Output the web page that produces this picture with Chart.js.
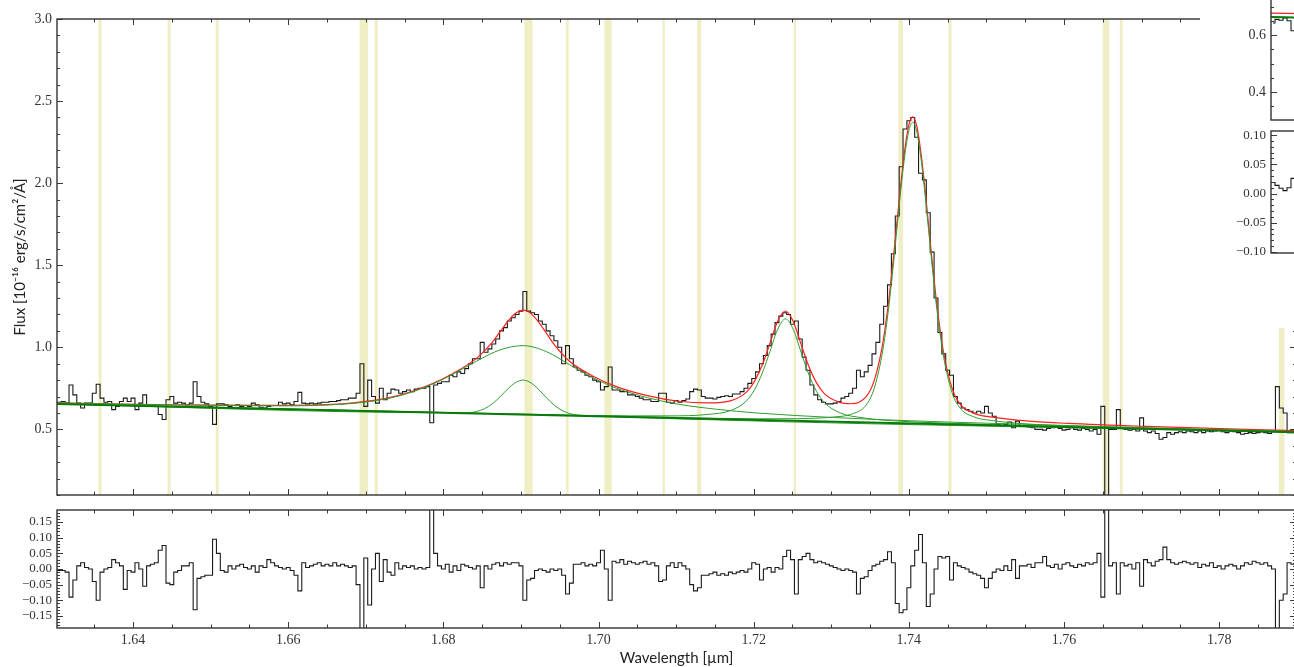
<!DOCTYPE html>
<html>
<head>
<meta charset="utf-8">
<title>Spectrum fit</title>
<script src="https://cdn.jsdelivr.net/npm/chart.js@4.4.1/dist/chart.umd.min.js"></script>
<style>
  body { margin: 0; background: #fff; width: 1294px; height: 667px; overflow: hidden; position: relative; }
  canvas { position: absolute; }
  #inset-bg { position: absolute; left: 1200px; top: 0; width: 100px; height: 328px; background: #fff; }
</style>
</head>
<body>
<canvas id="main-chart" width="1300" height="509" style="left:0;top:0"></canvas>
<canvas id="resid-chart" width="1300" height="170" style="left:0;top:497px"></canvas>
<div id="inset-bg"></div>
<canvas id="inset-flux" width="100" height="158" style="left:1200px;top:-24px"></canvas>
<canvas id="inset-resid" width="100" height="210" style="left:1200px;top:118px"></canvas>
<script>
// spectrum pixels: wavelength = lamStart + k * lamStep (micron)
const lamStart = 1.6300;
const lamStep = 0.0005;

const flux = [
  0.665, 0.665, 0.67, 0.66, 0.77, 0.71, 0.66, 0.63, 0.66, 0.66, 0.72, 0.775, 0.69, 0.665, 0.67, 0.62, 0.64, 0.67, 0.69, 0.67,
  0.69, 0.62, 0.66, 0.71, 0.65, 0.645, 0.64, 0.59, 0.56, 0.68, 0.70, 0.66, 0.665, 0.66, 0.65, 0.66, 0.79, 0.70, 0.665, 0.655,
  0.64, 0.53, 0.655, 0.655, 0.65, 0.64, 0.645, 0.65, 0.64, 0.645, 0.64, 0.66, 0.65, 0.635, 0.63, 0.64, 0.645, 0.645, 0.665, 0.655,
  0.66, 0.65, 0.67, 0.725, 0.66, 0.655, 0.66, 0.655, 0.66, 0.665, 0.665, 0.67, 0.67, 0.675, 0.68, 0.68, 0.69, 0.69, 0.72, 0.90,
  0.64, 0.80, 0.70, 0.66, 0.75, 0.68, 0.72, 0.745, 0.74, 0.72, 0.73, 0.74, 0.73, 0.745, 0.75, 0.75, 0.76, 0.54, 0.77, 0.78,
  0.79, 0.79, 0.83, 0.82, 0.85, 0.84, 0.87, 0.90, 0.93, 0.93, 1.03, 0.97, 0.99, 1.02, 1.05, 1.10, 1.12, 1.16, 1.18, 1.20,
  1.22, 1.34, 1.22, 1.21, 1.20, 1.16, 1.14, 1.10, 1.07, 1.04, 1.00, 0.90, 1.01, 0.93, 0.88, 0.86, 0.85, 0.83, 0.82, 0.80,
  0.79, 0.74, 0.76, 0.88, 0.74, 0.74, 0.73, 0.73, 0.71, 0.71, 0.70, 0.69, 0.68, 0.68, 0.67, 0.67, 0.72, 0.72, 0.665, 0.66,
  0.675, 0.665, 0.675, 0.685, 0.73, 0.745, 0.74, 0.70, 0.69, 0.69, 0.685, 0.695, 0.70, 0.705, 0.70, 0.715, 0.715, 0.73, 0.75, 0.78,
  0.81, 0.85, 0.90, 0.95, 1.01, 1.08, 1.15, 1.19, 1.21, 1.20, 1.14, 1.16, 1.05, 0.94, 0.86, 0.77, 0.71, 0.68, 0.665, 0.655,
  0.655, 0.66, 0.67, 0.69, 0.70, 0.72, 0.75, 0.86, 0.82, 0.85, 0.89, 0.96, 1.03, 1.14, 1.25, 1.38, 1.57, 1.80, 2.10, 2.33,
  2.38, 2.40, 2.28, 2.06, 2.02, 1.82, 1.58, 1.30, 1.09, 0.96, 0.86, 0.83, 0.70, 0.66, 0.63, 0.62, 0.61, 0.60, 0.61, 0.60,
  0.64, 0.60, 0.58, 0.53, 0.52, 0.53, 0.545, 0.51, 0.55, 0.52, 0.52, 0.515, 0.51, 0.50, 0.50, 0.495, 0.505, 0.51, 0.52, 0.505,
  0.495, 0.50, 0.51, 0.50, 0.495, 0.505, 0.50, 0.49, 0.50, 0.47, 0.64, 0.05, 0.50, 0.50, 0.62, 0.505, 0.50, 0.495, 0.50, 0.49,
  0.57, 0.49, 0.48, 0.49, 0.475, 0.44, 0.45, 0.48, 0.47, 0.48, 0.485, 0.48, 0.49, 0.485, 0.48, 0.49, 0.48, 0.49, 0.485, 0.49,
  0.495, 0.485, 0.48, 0.49, 0.485, 0.48, 0.47, 0.475, 0.48, 0.475, 0.48, 0.485, 0.48, 0.475, 0.49, 0.76, 0.63, 0.60, 0.48, 0.48,
  0.48
];

const resid = [
  0.00, -0.005, -0.005, -0.01, -0.09, -0.035, 0.01, 0.02, 0.005, 0.00, -0.04, -0.10, -0.01, 0.00, 0.005, 0.03, 0.02, 0.01, -0.065, -0.005,
  -0.01, 0.02, 0.00, -0.055, 0.01, 0.015, 0.02, 0.06, 0.075, -0.045, -0.05, -0.01, -0.005, 0.01, 0.01, 0.02, -0.13, -0.03, -0.025, -0.02,
  -0.02, 0.095, 0.05, -0.005, -0.01, 0.01, 0.00, 0.01, 0.015, 0.005, 0.00, 0.01, -0.01, 0.01, 0.005, 0.03, 0.02, 0.01, 0.005, 0.00,
  0.005, -0.005, -0.02, -0.07, 0.02, 0.005, 0.01, 0.015, 0.02, 0.01, 0.015, 0.01, 0.02, 0.01, 0.015, 0.01, 0.005, 0.01, -0.05, -0.25,
  0.035, -0.115, 0.00, 0.05, -0.04, 0.03, -0.01, -0.02, 0.02, 0.00, 0.01, 0.005, 0.01, 0.00, 0.005, 0.00, 0.005, 0.25, 0.05, 0.01,
  0.00, 0.015, -0.01, 0.01, -0.005, 0.015, 0.01, 0.005, 0.00, 0.01, -0.06, 0.01, 0.00, 0.015, 0.02, 0.01, 0.02, 0.015, 0.02, 0.02,
  0.01, -0.10, -0.035, -0.03, -0.005, 0.00, -0.005, -0.01, 0.00, -0.005, 0.00, -0.02, -0.08, -0.045, 0.015, 0.015, 0.02, 0.01, 0.015, 0.01,
  0.02, 0.06, 0.00, -0.10, 0.025, 0.02, 0.03, 0.015, 0.025, 0.02, 0.015, 0.02, 0.025, 0.015, 0.02, 0.01, -0.04, -0.035, 0.01, 0.02,
  0.005, 0.02, 0.01, 0.00, -0.05, -0.07, -0.06, -0.02, -0.02, -0.015, -0.01, -0.02, -0.015, -0.02, -0.01, -0.015, -0.01, -0.005, -0.01, 0.00,
  0.02, 0.015, -0.035, 0.00, 0.005, -0.01, 0.005, 0.00, 0.04, 0.06, 0.03, -0.08, 0.03, 0.04, 0.05, 0.03, 0.02, 0.025, 0.02, 0.015,
  0.01, 0.005, 0.00, -0.005, 0.00, -0.005, -0.01, -0.08, -0.03, -0.025, -0.005, 0.01, 0.015, 0.025, 0.03, 0.055, 0.02, -0.11, -0.14, -0.13,
  -0.06, 0.01, 0.06, 0.11, 0.02, -0.12, -0.08, 0.00, 0.04, 0.035, 0.04, -0.035, 0.02, 0.01, 0.005, 0.00, -0.01, -0.015, -0.02, -0.03,
  -0.06, -0.03, -0.01, 0.00, -0.005, 0.01, -0.005, 0.03, -0.03, 0.01, 0.01, 0.015, 0.005, 0.02, 0.02, 0.04, 0.01, 0.005, 0.015, 0.00,
  0.015, 0.02, 0.01, 0.005, 0.015, 0.01, 0.02, 0.015, 0.02, 0.05, -0.09, 0.25, 0.01, 0.02, -0.08, 0.02, 0.01, 0.015, 0.00, 0.02,
  -0.055, 0.03, 0.02, 0.01, 0.025, 0.03, 0.07, 0.03, 0.02, 0.015, 0.02, 0.025, 0.02, 0.015, 0.02, 0.005, 0.015, 0.01, 0.02, 0.005,
  0.01, 0.00, 0.01, 0.015, 0.01, 0.00, 0.01, 0.02, 0.015, 0.025, 0.02, 0.015, 0.02, 0.01, 0.00, -0.25, -0.10, -0.08, 0.02, 0.015,
  0.02
];

// fit: continuum, broad + narrow line at 1.690, lines at 1.724 and 1.7405, and the total
const contLam = [1.6300, 1.7899];
const contFlux = [0.655, 0.482];

const broadLam = [1.6300, 1.6403, 1.6503, 1.6603, 1.6653, 1.6703, 1.6743, 1.6783, 1.6813, 1.6843, 1.6873, 1.6903, 1.6933,
  1.6963, 1.6993, 1.7023, 1.7063, 1.7103, 1.7153, 1.7203, 1.7303, 1.7403, 1.7503, 1.7703, 1.7899];
const broadFlux = [0.661, 0.652, 0.646, 0.643, 0.649, 0.668, 0.704, 0.769, 0.838, 0.916, 0.984, 1.010, 0.973,
  0.893, 0.814, 0.751, 0.693, 0.653, 0.622, 0.600, 0.572, 0.552, 0.537, 0.510, 0.487];

const narrowLam = [1.6300, 1.6793, 1.6833, 1.6843, 1.6853, 1.6863, 1.6873, 1.6883, 1.6893, 1.6903, 1.6913, 1.6923, 1.6933,
  1.6943, 1.6953, 1.6963, 1.6973, 1.7013, 1.7899];
const narrowFlux = [0.655, 0.602, 0.602, 0.609, 0.626, 0.655, 0.698, 0.746, 0.785, 0.800, 0.783, 0.742, 0.692,
  0.647, 0.615, 0.596, 0.587, 0.578, 0.482];

const line2Lam = [1.6300, 1.6600, 1.6800, 1.6941, 1.7041, 1.7091, 1.7141, 1.7171, 1.7191, 1.7201, 1.7211, 1.7221, 1.7231,
  1.7241, 1.7251, 1.7261, 1.7271, 1.7281, 1.7291, 1.7311, 1.7341, 1.7391, 1.7441, 1.7541, 1.7741, 1.7899];
const line2Flux = [0.656, 0.624, 0.603, 0.589, 0.582, 0.582, 0.591, 0.616, 0.675, 0.741, 0.842, 0.975, 1.111,
  1.173, 1.109, 0.971, 0.835, 0.732, 0.664, 0.601, 0.570, 0.549, 0.539, 0.524, 0.501, 0.483];

const line3Lam = [1.6300, 1.6800, 1.7105, 1.7205, 1.7255, 1.7305, 1.7325, 1.7345, 1.7355, 1.7365, 1.7370, 1.7375, 1.7380,
  1.7385, 1.7390, 1.7395, 1.7400, 1.7405, 1.7410, 1.7415, 1.7420, 1.7425, 1.7430, 1.7435, 1.7440, 1.7445, 1.7455,
  1.7465, 1.7485, 1.7505, 1.7555, 1.7605, 1.7705, 1.7899];
const line3Flux = [0.656, 0.602, 0.572, 0.564, 0.565, 0.576, 0.591, 0.648, 0.745, 0.944, 1.095, 1.282, 1.501,
  1.740, 1.974, 2.177, 2.320, 2.371, 2.319, 2.174, 1.971, 1.735, 1.496, 1.276, 1.088, 0.935, 0.734,
  0.635, 0.574, 0.555, 0.532, 0.521, 0.507, 0.485];

const totalLam = [
  1.6300, 1.6400, 1.6500, 1.6600, 1.6650, 1.6700, 1.6743, 1.6783, 1.6813, 1.6843, 1.6863, 1.6873, 1.6883,
  1.6893, 1.6903, 1.6913, 1.6923, 1.6933, 1.6943, 1.6963, 1.6993, 1.7023, 1.7063, 1.7103, 1.7141, 1.7171, 1.7191,
  1.7201, 1.7211, 1.7221, 1.7231, 1.7241, 1.7251, 1.7261, 1.7271, 1.7281, 1.7291, 1.7311, 1.7325, 1.7345, 1.7355,
  1.7365, 1.7370, 1.7375, 1.7380, 1.7385, 1.7390, 1.7395, 1.7400, 1.7405, 1.7410, 1.7415, 1.7420, 1.7425, 1.7430,
  1.7435, 1.7440, 1.7445, 1.7455, 1.7465, 1.7485, 1.7505, 1.7555, 1.7605, 1.7705, 1.7899];
const totalFlux = [
  0.662, 0.653, 0.647, 0.646, 0.650, 0.670, 0.707, 0.773, 0.842, 0.934, 1.030, 1.094, 1.157,
  1.207, 1.226, 1.205, 1.152, 1.084, 1.016, 0.913, 0.824, 0.760, 0.705, 0.671, 0.661, 0.675, 0.728,
  0.792, 0.892, 1.025, 1.160, 1.221, 1.157, 1.019, 0.884, 0.783, 0.718, 0.664, 0.656, 0.700, 0.792,
  0.987, 1.137, 1.322, 1.540, 1.778, 2.011, 2.212, 2.355, 2.404, 2.352, 2.206, 2.002, 1.765, 1.526,
  1.303, 1.116, 0.962, 0.760, 0.660, 0.596, 0.576, 0.550, 0.536, 0.518, 0.492];

// masked (sky line) intervals
const maskLo = [1.63555, 1.64445, 1.65065, 1.66920, 1.67115, 1.69045, 1.69580, 1.70075, 1.70825, 1.71270, 1.72515,
  1.73865, 1.74510, 1.76500, 1.76720, 1.78770];
const maskHi = [1.63595, 1.64485, 1.65105, 1.67030, 1.67155, 1.69150, 1.69615, 1.70170, 1.70855, 1.71325, 1.72545,
  1.73925, 1.74550, 1.76585, 1.76755, 1.78840];

const xTicks = [1.64, 1.66, 1.68, 1.70, 1.72, 1.74, 1.76, 1.78];
const fluxTicks = [0.5, 1.0, 1.5, 2.0, 2.5, 3.0];
const residTicks = [-0.15, -0.10, -0.05, 0.00, 0.05, 0.10, 0.15];

// inset (only its left edge is inside the picture)
const insetLam = [1.65025, 1.65075, 1.65125, 1.65175, 1.65225, 1.65275, 1.65325];
const insetFlux = [0.642, 0.655, 0.652, 0.660, 0.650, 0.615, 0.655];
const insetResid = [0.019, 0.014, 0.009, 0.005, 0.010, 0.026, -0.035];
const insetFitLam = [1.6500, 1.6537];
const insetTotal = [0.677, 0.675];
const insetCont = [0.663, 0.661];
const insetFluxTicks = [0.4, 0.6];
const insetResidTicks = [-0.10, -0.05, 0.00, 0.05, 0.10];

const xMin = 1.6302, xMax = 1.7899;
const serif = 'Liberation Serif';
const sans = 'Lato';

const pixLam = flux.map((v, k) => lamStart + k * lamStep);
const xy = (xs, ys) => xs.map((x, k) => ({ x: x, y: ys[k] }));
const fixedTicks = vals => s => { s.ticks = vals.map(v => ({ value: v })); };
const signed = d => v => (v < -1e-9 ? '\u2212' : '') + Math.abs(v).toFixed(d);

function steps(min, max, step) {
  const out = [];
  for (let k = Math.ceil(min / step - 1e-6); k * step <= max + 1e-9; k++) out.push(k * step);
  return out;
}
const isMajor = (v, m) => Math.abs(v / m - Math.round(v / m)) < 1e-6;

// frame with inward ticks on every side
const frameTicks = {
  id: 'frameTicks',
  afterDatasetsDraw(chart, args, o) {
    const { ctx, chartArea: a, scales } = chart;
    ctx.save();
    ctx.strokeStyle = '#3a3a3a';
    ctx.lineWidth = 1;
    ctx.beginPath();
    if (o.xMinor) {
      const x = scales.x;
      steps(x.min, x.max, o.xMinor).forEach(v => {
        const p = Math.round(x.getPixelForValue(v)) + 0.5;
        const len = isMajor(v, o.xMajor) ? 6 : 3.5;
        ctx.moveTo(p, a.bottom); ctx.lineTo(p, a.bottom - len);
        ctx.moveTo(p, a.top); ctx.lineTo(p, a.top + len);
      });
    }
    const y = scales.y;
    steps(y.min, y.max, o.yMinor).forEach(v => {
      const p = Math.round(y.getPixelForValue(v)) + 0.5;
      const len = isMajor(v, o.yMajor) ? 6 : 3;
      ctx.moveTo(a.left, p); ctx.lineTo(a.left + len, p);
      ctx.moveTo(a.right, p); ctx.lineTo(a.right - len, p);
    });
    ctx.stroke();
    ctx.lineWidth = 1.4;
    ctx.strokeStyle = '#333';
    ctx.strokeRect(a.left, a.top, a.right - a.left, a.bottom - a.top);
    ctx.restore();
  }
};

const maskBands = {
  id: 'maskBands',
  beforeDatasetsDraw(chart) {
    const { ctx, chartArea: a, scales: { x } } = chart;
    ctx.save();
    ctx.fillStyle = 'rgba(226,222,140,0.5)';
    for (let k = 0; k < maskLo.length; k++) {
      const x0 = x.getPixelForValue(maskLo[k]);
      const x1 = x.getPixelForValue(maskHi[k]);
      ctx.fillRect(x0, a.top, x1 - x0, a.bottom - a.top);
    }
    ctx.restore();
  }
};

const quiet = { legend: { display: false }, tooltip: { enabled: false } };

function yAxis(min, max, ticks, fmt, size, width, title) {
  return {
    min: min, max: max,
    afterFit: s => { s.width = width; },
    afterBuildTicks: fixedTicks(ticks),
    grid: { display: false, drawTicks: false },
    border: { display: false },
    ticks: { padding: 5, color: '#333', font: { family: serif, size: size }, callback: fmt },
    title: title || { display: false }
  };
}

function model(label, xs, ys, color, width, order) {
  return { label: label, data: xy(xs, ys), borderColor: color, borderWidth: width, pointRadius: 0,
    cubicInterpolationMode: 'monotone', order: order, clip: 0 };
}

new Chart('main-chart', {
  type: 'line',
  data: {
    datasets: [
      model('continuum', contLam, contFlux, '#0a7a0a', 2, 0),
      model('broad', broadLam, broadFlux, '#2e9e2e', 1, 1),
      model('narrow', narrowLam, narrowFlux, '#2e9e2e', 1, 1),
      model('line 2', line2Lam, line2Flux, '#2e9e2e', 1, 1),
      model('line 3', line3Lam, line3Flux, '#2e9e2e', 1, 1),
      model('total', totalLam, totalFlux, '#ff2020', 1.2, 2),
      { label: 'spectrum', data: xy(pixLam, flux), stepped: 'middle', borderColor: '#1a1a1a', borderWidth: 1.1,
        pointRadius: 0, order: 3, clip: 0 }
    ]
  },
  options: {
    responsive: false, animation: false, devicePixelRatio: 1,
    layout: { padding: { top: 19, right: 4, bottom: 14, left: 0 } },
    plugins: Object.assign({ frameTicks: { xMinor: 0.005, xMajor: 0.02, yMinor: 0.1, yMajor: 0.5 } }, quiet),
    scales: {
      x: { type: 'linear', min: xMin, max: xMax, display: false },
      y: yAxis(0.1, 3.0, fluxTicks, v => v.toFixed(1), 14, 57, {
        display: true, text: 'Flux [10\u207B\u00B9\u2076 erg/s/cm\u00B2/\u00C5]', color: '#222',
        font: { family: sans, size: 15 }, padding: { top: 11, bottom: 0 }
      })
    }
  },
  plugins: [maskBands, frameTicks]
});

new Chart('resid-chart', {
  type: 'line',
  data: {
    datasets: [
      { label: 'residual', data: xy(pixLam, resid), stepped: 'middle', borderColor: '#1a1a1a', borderWidth: 1.1,
        pointRadius: 0, clip: 0 }
    ]
  },
  options: {
    responsive: false, animation: false, devicePixelRatio: 1,
    layout: { padding: { top: 13, right: 4, bottom: 0, left: 0 } },
    plugins: Object.assign({ frameTicks: { xMinor: 0.005, xMajor: 0.02, yMinor: 0.01, yMajor: 0.05 } }, quiet),
    scales: {
      x: {
        type: 'linear', min: xMin, max: xMax,
        afterFit: s => { s.height = 39; },
        afterBuildTicks: fixedTicks(xTicks),
        grid: { display: false, drawTicks: false },
        border: { display: false },
        ticks: { padding: 4, color: '#333', font: { family: serif, size: 14 }, autoSkip: false, maxRotation: 0,
          callback: v => v.toFixed(2) },
        title: { display: true, text: 'Wavelength [\u00B5m]', color: '#222', font: { family: sans, size: 15 },
          padding: { top: 0, bottom: 0 } }
      },
      y: yAxis(-0.1885, 0.1885, residTicks, signed(2), 13, 57)
    }
  },
  plugins: [frameTicks]
});

new Chart('inset-flux', {
  type: 'line',
  data: {
    datasets: [
      model('continuum', insetFitLam, insetCont, '#0a7a0a', 2, 0),
      model('total', insetFitLam, insetTotal, '#ff2020', 1.2, 1),
      { label: 'spectrum', data: xy(insetLam, insetFlux), stepped: 'middle', borderColor: '#1a1a1a', borderWidth: 1.1,
        pointRadius: 0, order: 2, clip: 0 }
    ]
  },
  options: {
    responsive: false, animation: false, devicePixelRatio: 1,
    layout: { padding: { top: 14, right: 0, bottom: 14, left: 0 } },
    plugins: Object.assign({ frameTicks: { yMinor: 0.05, yMajor: 0.2 } }, quiet),
    scales: {
      x: { type: 'linear', min: 1.6500, max: 1.653625, display: false },
      y: yAxis(0.302, 0.758, insetFluxTicks, v => v.toFixed(1), 14, 71)
    }
  },
  plugins: [frameTicks]
});

new Chart('inset-resid', {
  type: 'line',
  data: {
    datasets: [
      { label: 'residual', data: xy(insetLam, insetResid), stepped: 'middle', borderColor: '#1a1a1a', borderWidth: 1.1,
        pointRadius: 0, clip: 0 }
    ]
  },
  options: {
    responsive: false, animation: false, devicePixelRatio: 1,
    layout: { padding: { top: 13, right: 0, bottom: 75, left: 0 } },
    plugins: Object.assign({ frameTicks: { yMinor: 0.01, yMajor: 0.05 } }, quiet),
    scales: {
      x: { type: 'linear', min: 1.6500, max: 1.653625, display: false },
      y: yAxis(-0.1017, 0.107, insetResidTicks, signed(2), 13, 71)
    }
  },
  plugins: [frameTicks]
});
</script>
</body>
</html>
